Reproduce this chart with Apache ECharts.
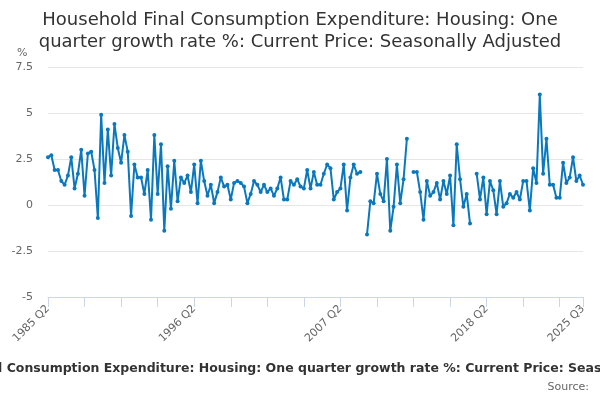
<!DOCTYPE html>
<html>
<head>
<meta charset="utf-8">
<script src="https://cdn.jsdelivr.net/npm/echarts@6/dist/echarts.min.js"></script>
<style>
    html, body { margin: 0; padding: 0; background: #fff; }
    #chart { width: 600px; height: 400px; }
</style>
</head>
<body>
<div id="chart"></div>
<script>
// quarters run from 1985 Q2 to 2025 Q3
const startYear = 1985
const startQuarter = 2
const quarterCount = 162

// one quarter growth rate, % (null = gap)
const growth = [
    2.6, 2.7, 1.9, 1.9, 1.3, 1.1, 1.6, 2.6, 0.9, 1.7,
    3.0, 0.5, 2.8, 2.9, 1.9, -0.7, 4.9, 1.2, 4.1, 1.6,
    4.4, 3.1, 2.3, 3.8, 2.9, -0.6, 2.2, 1.5, 1.5, 0.6,
    1.9, -0.8, 3.8, 0.6, 3.3, -1.4, 2.1, -0.2, 2.4, 0.2,
    1.5, 1.2, 1.6, 0.7, 2.2, 0.1, 2.4, 1.3, 0.5, 1.1,
    0.1, 0.7, 1.5, 1.0, 1.1, 0.3, 1.2, 1.3, 1.2, 1.0,
    0.1, 0.6, 1.3, 1.1, 0.7, 1.1, 0.7, 0.9, 0.5, 0.9,
    1.5, 0.3, 0.3, 1.3, 1.1, 1.4, 1.0, 0.9, 1.9, 0.9,
    1.8, 1.1, 1.1, 1.7, 2.2, 2.0, 0.3, 0.7, 0.9, 2.2,
    -0.3, 1.5, 2.2, 1.7, 1.8, null, -1.6, 0.2, 0.1, 1.7,
    0.6, 0.2, 2.5, -1.4, -0.1, 2.2, 0.1, 1.4, 3.6, null,
    1.8, 1.8, 0.7, -0.8, 1.3, 0.5, 0.7, 1.2, 0.3, 1.3,
    0.6, 1.6, -1.1, 3.3, 1.4, -0.1, 0.6, -1.0, null, 1.7,
    0.3, 1.5, -0.5, 1.3, 0.8, -0.5, 1.3, -0.1, 0.1, 0.6,
    0.4, 0.7, 0.3, 1.3, 1.3, -0.3, 2.0, 1.2, 6.0, 1.7,
    3.6, 1.1, 1.1, 0.4, 0.4, 2.3, 1.2, 1.5, 2.6, 1.3,
    1.6, 1.1
]

const yTicks = { min: -5, max: 7.5, interval: 2.5 }
const seriesName = 'Household Final Consumption Expenditure: Housing: One quarter growth rate %: Current Price: Seasonally Adjusted'

const quarters = []
for (let i = 0; i < quarterCount; i++) {
    const q = startQuarter - 1 + i
    quarters.push((startYear + Math.floor(q / 4)) + ' Q' + (q % 4 + 1))
}

const lastIdx = quarters.length - 1
const font = 'DejaVu Sans'

const myChart = echarts.init(document.getElementById('chart'))

myChart.setOption({
    animation: false,
    title: [
        {
            text: 'Household Final Consumption Expenditure: Housing: One\nquarter growth rate %: Current Price: Seasonally Adjusted',
            left: 'center',
            top: 4,
            textStyle: {
                fontFamily: font,
                fontSize: 18,
                fontWeight: 'normal',
                color: '#333',
                lineHeight: 22
            }
        },
        {
            text: '%',
            left: 12,
            top: 43,
            textStyle: { fontFamily: font, fontSize: 11, fontWeight: 'normal', color: '#666' }
        },
        {
            text: seriesName,
            left: 'center',
            top: 357,
            textStyle: { fontFamily: font, fontSize: 12.5, fontWeight: 'bold', color: '#333' }
        },
        {
            text: 'Source:',
            right: 6,
            top: 377,
            textStyle: { fontFamily: font, fontSize: 11, fontWeight: 'normal', color: '#666' }
        }
    ],
    grid: {
        left: 48,
        right: 17,
        top: 67,
        bottom: 103
    },
    xAxis: {
        type: 'category',
        data: quarters,
        boundaryGap: false,
        axisLine: { onZero: false, lineStyle: { color: '#ccd6eb' } },
        axisTick: {
            length: 10,
            lineStyle: { color: '#ccd6eb' },
            interval: (idx) => idx % 11 === 0 || idx === lastIdx
        },
        axisLabel: {
            rotate: 45,
            margin: 10,
            fontFamily: font,
            fontSize: 11,
            color: '#666',
            interval: (idx) => idx % 44 === 0 || idx === lastIdx
        },
        splitLine: { show: false }
    },
    yAxis: {
        type: 'value',
        min: yTicks.min,
        max: yTicks.max,
        interval: yTicks.interval,
        axisLine: { show: false },
        axisTick: { show: false },
        axisLabel: {
            margin: 15,
            fontFamily: font,
            fontSize: 11,
            color: '#666'
        },
        splitLine: { lineStyle: { color: '#e6e6e6' } }
    },
    series: [
        {
            name: seriesName,
            type: 'line',
            data: growth,
            connectNulls: false,
            symbol: 'circle',
            symbolSize: 4,
            showAllSymbol: true,
            lineStyle: { width: 2, color: '#0a78be' },
            itemStyle: { color: '#0a78be' }
        }
    ]
})
</script>
</body>
</html>
